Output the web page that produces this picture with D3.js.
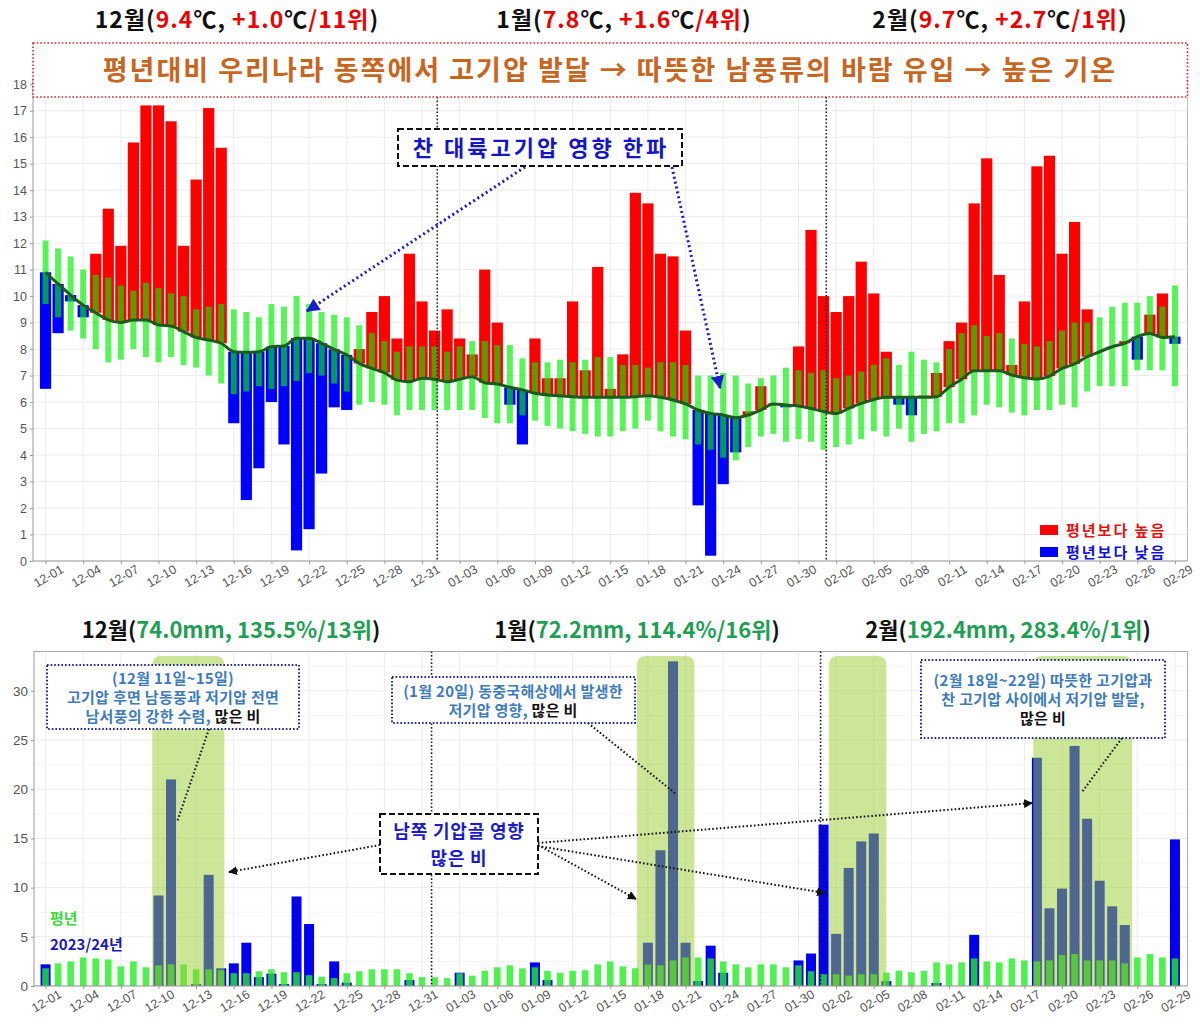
<!DOCTYPE html>
<meta charset="utf-8">
<head>
  <title>2023/24 겨울철 기온과 강수량</title>
</head>
<body>
<style>

  body {
    margin: 0;
    background: #fff;
  }

  svg text {
    font-family: "Noto Sans CJK KR", "Noto Sans", sans-serif;
  }

  .axis text {
    font-family: "Liberation Sans", "DejaVu Sans", sans-serif;
    font-size: 12.5px;
    fill: #555;
  }

  .axis path, .axis line {
    stroke: #999;
  }

  .grid line {
    stroke: #ececec;
    stroke-width: 1;
  }

</style>
<svg id="chart" width="1200" height="1024"></svg>
<script src="https://cdn.jsdelivr.net/npm/d3@7"></script>
<script>

// ---- data (one value per day, 2023-12-01 .. 2024-02-29) ----

// daily mean temperature 2023/24 (°C)
var tempActual = [
  6.5, 8.6, 9.8, 9.2, 11.6, 13.3, 11.9, 15.8, 17.2, 17.2,
  16.6, 11.9, 14.4, 17.1, 15.6, 5.2, 2.3, 3.5, 6.0, 4.4,
  0.4, 1.2, 3.3, 5.8, 5.7, 8.0, 9.4, 10.0, 8.4, 11.6,
  9.8, 8.7, 9.5, 8.4, 7.8, 11.0, 9.0, 5.9, 4.4, 8.4,
  6.9, 6.9, 9.8, 7.2, 11.1, 6.5, 7.8, 13.9, 13.5, 11.6,
  11.5, 8.7, 2.1, 0.2, 2.9, 4.1, 5.65, 6.6, 5.95, 5.8,
  8.1, 12.5, 10.0, 9.4, 10.0, 11.3, 10.1, 7.9, 5.9, 5.5,
  6.25, 7.1, 8.3, 9.0, 13.5, 15.2, 10.8, 7.4, 9.8, 14.9,
  15.3, 11.6, 12.8, 9.5, 7.9, 8.1, 8.3, 7.6, 9.3, 10.1,
  8.2
];

// normal (climatological) daily mean temperature
var tempNormal = [
  10.9, 10.46, 10.04, 9.66, 9.37, 9.1, 9.0, 9.1, 9.1, 8.91,
  8.87, 8.66, 8.44, 8.34, 8.22, 7.9, 7.88, 7.9, 8.09, 8.12,
  8.41, 8.41, 8.22, 7.99, 7.78, 7.46, 7.27, 7.11, 6.83, 6.77,
  6.9, 6.86, 6.77, 6.86, 6.96, 6.73, 6.68, 6.56, 6.46, 6.33,
  6.27, 6.24, 6.2, 6.18, 6.18, 6.18, 6.18, 6.2, 6.24, 6.18,
  6.08, 5.93, 5.7, 5.57, 5.51, 5.41, 5.51, 5.7, 5.93, 5.89,
  5.85, 5.76, 5.64, 5.57, 5.76, 5.95, 6.1, 6.18, 6.18, 6.18,
  6.18, 6.2, 6.56, 6.86, 7.18, 7.18, 7.18, 7.02, 6.92, 6.87,
  6.98, 7.27, 7.44, 7.71, 7.9, 8.09, 8.22, 8.47, 8.59, 8.44,
  8.47
];

// normal range, lower and upper bound
var tempNormalLow = [
  9.7, 9.2, 8.7, 8.4, 8.0, 7.5, 7.6, 8.0, 7.7, 7.5,
  7.7, 7.4, 7.3, 7.0, 6.7, 6.3, 6.4, 6.6, 6.5, 6.6,
  6.8, 7.1, 7.0, 6.7, 6.4, 5.9, 6.0, 5.9, 5.5, 5.7,
  5.7, 5.7, 5.7, 5.7, 5.7, 5.4, 5.2, 5.2, 5.5, 5.3,
  5.1, 5.0, 4.9, 4.8, 4.7, 4.7, 4.9, 5.0, 5.3, 4.9,
  4.7, 4.6, 4.4, 4.2, 3.9, 3.8, 4.3, 4.7, 4.8, 4.5,
  4.6, 4.5, 4.2, 4.3, 4.4, 4.6, 4.9, 4.7, 5.0, 4.5,
  4.8, 4.9, 5.2, 5.2, 5.5, 5.9, 5.8, 5.6, 5.5, 5.7,
  5.7, 5.9, 5.8, 6.4, 6.6, 6.6, 6.6, 7.2, 7.2, 7.2,
  6.6
];
var tempNormalHigh = [
  12.1, 11.8, 11.5, 11.0, 10.8, 10.7, 10.4, 10.2, 10.5, 10.3,
  10.1, 10.0, 9.5, 9.6, 9.7, 9.5, 9.4, 9.2, 9.7, 9.6,
  10.0, 9.7, 9.4, 9.3, 9.2, 8.9, 8.6, 8.3, 7.9, 8.1,
  8.1, 8.1, 7.9, 8.1, 8.3, 8.3, 8.15, 8.15, 7.65, 7.5,
  7.5, 7.6, 7.5, 7.6, 7.7, 7.7, 7.4, 7.4, 7.3, 7.5,
  7.5, 7.4, 7.0, 7.0, 7.1, 7.0, 6.7, 6.9, 7.0, 7.3,
  7.2, 7.1, 7.2, 6.9, 7.0, 7.15, 7.4, 7.65, 7.4, 7.9,
  7.6, 7.5, 8.0, 8.6, 8.9, 8.5, 8.6, 8.4, 8.2, 8.1,
  8.3, 8.7, 9.0, 9.0, 9.2, 9.6, 9.75, 9.75, 10.0, 9.6,
  10.4
];

// daily precipitation 2023/24 (mm)
var rainActual = [
  2.2, 0, 0, 0, 0, 0, 0, 0, 0, 9.2,
  21.0, 0, 0.2, 11.3, 1.8, 2.3, 4.4, 0.9, 1.25, 0.2,
  9.1, 6.3, 0.2, 2.5, 0.35, 0, 0, 0, 0, 0.6,
  0, 0, 0, 1.35, 0, 0, 0, 0, 0, 2.4,
  0.6, 0, 0, 0, 0, 0, 0, 0, 4.4, 13.8,
  33.0, 4.4, 0.5, 4.1, 1.35, 0, 0, 0, 0, 0,
  2.6, 3.3, 16.4, 5.3, 12.0, 14.7, 15.5, 0.5, 0, 0,
  0, 0.3, 0, 0, 5.2, 0, 0, 0, 0, 23.2,
  7.9, 9.9, 24.4, 17.0, 10.7, 8.1, 6.2, 0, 0, 0,
  14.9
];

// normal daily precipitation (mm)
var rainNormal = [
  1.8, 2.3, 2.5, 2.9, 2.8, 2.7, 2.0, 2.5, 1.9, 2.1,
  2.2, 2.2, 1.7, 1.7, 1.6, 1.3, 1.3, 1.5, 1.7, 1.4,
  1.4, 1.1, 0.95, 0.8, 1.3, 1.5, 1.7, 1.7, 1.7, 1.3,
  0.9, 0.9, 0.8, 1.3, 1.05, 1.55, 1.9, 2.1, 1.8, 1.9,
  1.55, 1.35, 1.55, 1.6, 2.2, 2.5, 2.0, 1.8, 2.2, 2.1,
  2.6, 2.9, 2.9, 2.8, 2.5, 2.2, 1.9, 2.2, 2.2, 1.9,
  2.1, 1.5, 1.2, 1.2, 1.05, 1.2, 1.2, 1.35, 1.55, 1.4,
  1.55, 2.4, 2.2, 2.4, 2.8, 2.5, 2.4, 2.8, 2.6, 2.5,
  2.6, 3.15, 3.25, 2.6, 2.6, 2.6, 2.3, 2.9, 3.25, 2.9,
  2.8
];

// heavy-rain periods shaded in the lower panel
var rainPeriods = [
  ["2023-12-09T12:00", "2023-12-15T06:00"],
  ["2024-01-17T03:00", "2024-01-21T17:00"],
  ["2024-02-01T10:00", "2024-02-06T00:00"],
  ["2024-02-17T17:00", "2024-02-25T14:00"]
];

var monthStarts = ["2024-01-01", "2024-02-01"];

// headers: [text, colour] pieces
var tempHeaders = [
  [["12월(", "#111"], ["9.4", "#e00"], ["℃, ", "#111"], ["+1.0", "#e00"], ["℃", "#111"], ["/11위", "#e00"], [")", "#111"]],
  [["1월(", "#111"], ["7.8", "#e00"], ["℃, ", "#111"], ["+1.6", "#e00"], ["℃", "#111"], ["/4위", "#e00"], [")", "#111"]],
  [["2월(", "#111"], ["9.7", "#e00"], ["℃, ", "#111"], ["+2.7", "#e00"], ["℃", "#111"], ["/1위", "#e00"], [")", "#111"]]
];
var rainHeaders = [
  [["12월(", "#111"], ["74.0mm, 135.5%/13위", "#1f9e55"], [")", "#111"]],
  [["1월(", "#111"], ["72.2mm, 114.4%/16위", "#1f9e55"], [")", "#111"]],
  [["2월(", "#111"], ["192.4mm, 283.4%/1위", "#1f9e55"], [")", "#111"]]
];

(function() {

var svg = d3.select('#chart');

var days = d3.timeDay.range(new Date(2023, 11, 1), new Date(2024, 2, 1)),
    fmt = d3.timeFormat('%m-%d'),
    tickDays = days.filter(function(d, i) { return i % 3 === 0; });

var left = 33, right = 1187.5;

var x = d3.scaleTime()
    .domain([d3.timeDay.offset(days[0], -1), d3.timeDay.offset(days[days.length - 1], 1)])
    .range([left, right]);

var defs = svg.append('defs');
addMarker('arrow-blue', '#1a1ad0');
addMarker('arrow-black', '#111');

function addMarker(id, color) {
  defs.append('marker')
      .attr('id', id)
      .attr('viewBox', '0 0 10 10')
      .attr('refX', 9).attr('refY', 5)
      .attr('markerWidth', 4.5).attr('markerHeight', 4.5)
      .attr('markerUnits', 'strokeWidth')
      .attr('orient', 'auto')
    .append('path')
      .attr('d', 'M0,0 L10,5 L0,10 Z')
      .attr('fill', color);
}

drawTempPanel();
drawRainPanel();

function header(parent, pieces, cx, y, size, spacing) {
  var t = parent.append('text')
      .attr('x', cx).attr('y', y)
      .attr('text-anchor', 'middle')
      .style('font-size', size + 'px')
      .style('font-weight', 'bold')
      .style('letter-spacing', spacing + 'px');
  pieces.forEach(function(p) {
    t.append('tspan').attr('fill', p[1]).text(p[0]);
  });
}

function xAxis(g, y0, dx) {
  g.attr('class', 'axis')
      .attr('transform', 'translate(0,' + y0 + ')')
      .call(d3.axisBottom(x).tickValues(tickDays).tickFormat(fmt).tickSize(3).tickSizeOuter(0));
  g.select('.domain').attr('d', 'M' + left + ',0H' + right);
  g.selectAll('.tick text')
      .attr('y', 0).attr('dy', '0.71em')
      .attr('text-anchor', 'end')
      .attr('transform', 'translate(' + dx + ',3) rotate(-30)');
}

// ---------------- temperature panel ----------------
function drawTempPanel() {
  var y = d3.scaleLinear().domain([0, 18]).range([561, 84.2]);
  var g = svg.append('g');

  var grid = g.append('g').attr('class', 'grid');
  grid.selectAll('.h').data(d3.range(0, 19)).enter().append('line')
      .attr('x1', left).attr('x2', right)
      .attr('y1', y).attr('y2', y);
  grid.selectAll('.v').data(tickDays).enter().append('line')
      .attr('x1', x).attr('x2', x)
      .attr('y1', 78).attr('y2', 561);

  // anomaly bars from the normal line to the observed value
  g.append('g').selectAll('rect')
      .data(days)
    .enter().append('rect')
      .attr('x', function(d) { return x(d) - 5.6; })
      .attr('width', 11.2)
      .attr('y', function(d, i) { return y(Math.max(tempActual[i], tempNormal[i])); })
      .attr('height', function(d, i) { return Math.abs(y(tempActual[i]) - y(tempNormal[i])); })
      .attr('fill', function(d, i) { return tempActual[i] >= tempNormal[i] ? '#ff0000' : '#0000ff'; });

  // normal range
  g.append('g').selectAll('rect')
      .data(days)
    .enter().append('rect')
      .attr('x', function(d) { return x(d) - 3; })
      .attr('width', 6)
      .attr('y', function(d, i) { return y(tempNormalHigh[i]); })
      .attr('height', function(d, i) { return y(tempNormalLow[i]) - y(tempNormalHigh[i]); })
      .attr('fill', '#00ee00')
      .attr('fill-opacity', 0.65);

  var line = d3.line()
      .x(function(d) { return x(d); })
      .y(function(d, i) { return y(tempNormal[i]); })
      .curve(d3.curveMonotoneX);

  g.append('path')
      .datum(days)
      .attr('d', line)
      .attr('fill', 'none')
      .attr('stroke', '#1d5a1d')
      .attr('stroke-width', 3);

  // axes and frame
  g.append('line').attr('x1', right).attr('x2', right).attr('y1', 78).attr('y2', 561)
      .attr('stroke', '#bbb');
  var ya = g.append('g').attr('class', 'axis')
      .attr('transform', 'translate(' + left + ',0)')
      .call(d3.axisLeft(y).ticks(18).tickSize(3).tickSizeOuter(0));
  ya.select('.domain').attr('d', 'M0,78V561');
  xAxis(g.append('g'), 561, 14);

  // month boundaries
  g.selectAll('.month').data(monthStarts).enter().append('line')
      .attr('x1', function(d) { return x(new Date(d + 'T00:00')) + 2.7; })
      .attr('x2', function(d) { return x(new Date(d + 'T00:00')) + 2.7; })
      .attr('y1', 97).attr('y2', 561)
      .attr('stroke', '#222').attr('stroke-width', 1.6)
      .attr('stroke-dasharray', '1.6,2');

  // headline box
  g.append('rect')
      .attr('x', left).attr('y', 43).attr('width', right - left).attr('height', 54)
      .attr('fill', '#fff')
      .attr('stroke', '#d02828').attr('stroke-width', 1.6)
      .attr('stroke-dasharray', '1.6,2');
  g.append('text')
      .attr('x', 610).attr('y', 80)
      .attr('text-anchor', 'middle')
      .style('font-size', '27px').style('font-weight', 'bold')
      .style('letter-spacing', '2px')
      .attr('fill', '#c8651f')
      .text('평년대비 우리나라 동쪽에서 고기압 발달 → 따뜻한 남풍류의 바람 유입 → 높은 기온');

  var centers = [237, 624, 1000];
  tempHeaders.forEach(function(h, i) { header(svg, h, centers[i], 28, 23, 1); });

  // cold wave note
  [[525, 167, 307, 311], [672, 167, 720, 388]].forEach(function(a) {
    g.append('line')
        .attr('x1', a[0]).attr('y1', a[1]).attr('x2', a[2]).attr('y2', a[3])
        .attr('stroke', '#1a1ad0').attr('stroke-width', 3)
        .attr('stroke-dasharray', '2,3')
        .attr('marker-end', 'url(#arrow-blue)');
  });
  g.append('rect')
      .attr('x', 398).attr('y', 129).attr('width', 284).attr('height', 37)
      .attr('fill', '#fff').attr('stroke', '#111').attr('stroke-width', 2)
      .attr('stroke-dasharray', '6,3');
  g.append('text')
      .attr('x', 541).attr('y', 156)
      .attr('text-anchor', 'middle')
      .style('font-size', '22px').style('font-weight', 'bold')
      .style('letter-spacing', '3px')
      .attr('fill', '#1515c8')
      .text('찬 대륙고기압 영향 한파');

  // legend
  var legend = [['평년보다 높음', '#ff0000', '#e81010'], ['평년보다 낮음', '#0000ff', '#1010e0']];
  legend.forEach(function(l, i) {
    g.append('rect').attr('x', 1040).attr('y', 525 + i * 22).attr('width', 18).attr('height', 10)
        .attr('fill', l[1]);
    g.append('text').attr('x', 1066).attr('y', 536 + i * 22)
        .style('font-size', '15px').style('font-weight', 'bold')
        .style('letter-spacing', '2px')
        .attr('fill', l[2]).text(l[0]);
  });
}

// ---------------- precipitation panel ----------------
function drawRainPanel() {
  var y = d3.scaleLinear().domain([0, 34]).range([986, 651.5]);
  var g = svg.append('g');

  var grid = g.append('g').attr('class', 'grid');
  grid.selectAll('.h').data(d3.range(0, 34, 2.5)).enter().append('line')
      .attr('x1', left + 1).attr('x2', right)
      .attr('y1', y).attr('y2', y)
      .style('stroke', function(d) { return d % 5 === 0 ? '#ececec' : '#f5f5f5'; });
  grid.selectAll('.v').data(tickDays).enter().append('line')
      .attr('x1', x).attr('x2', x)
      .attr('y1', 651.5).attr('y2', 986);

  g.append('g').selectAll('rect')
      .data(days)
    .enter().append('rect')
      .attr('x', function(d) { return x(d) - 5; })
      .attr('width', 10)
      .attr('y', function(d, i) { return y(rainActual[i]); })
      .attr('height', function(d, i) { return y(0) - y(rainActual[i]); })
      .attr('fill', '#0000ee');

  g.append('g').selectAll('rect')
      .data(days)
    .enter().append('rect')
      .attr('x', function(d) { return x(d) - 3.3; })
      .attr('width', 6.6)
      .attr('y', function(d, i) { return y(rainNormal[i]); })
      .attr('height', function(d, i) { return y(0) - y(rainNormal[i]); })
      .attr('fill', '#22ee22')
      .attr('fill-opacity', 0.8);

  // shaded heavy-rain periods
  var top = 656, r = 9;
  g.append('g').selectAll('path')
      .data(rainPeriods)
    .enter().append('path')
      .attr('d', function(p) {
        var x0 = x(new Date(p[0])), x1 = x(new Date(p[1]));
        return 'M' + x0 + ',' + y(0) + 'V' + (top + r) + 'Q' + x0 + ',' + top + ' ' + (x0 + r) + ',' + top +
               'H' + (x1 - r) + 'Q' + x1 + ',' + top + ' ' + x1 + ',' + (top + r) + 'V' + y(0) + 'Z';
      })
      .attr('fill', '#9acd32')
      .attr('fill-opacity', 0.5);

  // frame and axes
  g.append('path').attr('d', 'M' + (left + 1) + ',651.5H' + right + 'V986')
      .attr('fill', 'none').attr('stroke', '#aaa');
  var ya = g.append('g').attr('class', 'axis')
      .attr('transform', 'translate(' + (left + 1) + ',0)')
      .call(d3.axisLeft(y).tickValues(d3.range(0, 31, 5)).tickSize(3).tickSizeOuter(0));
  ya.select('.domain').attr('d', 'M0,651.5V986');
  ya.selectAll('.tick text').style('font-size', '13.5px');
  xAxis(g.append('g'), 986, 12);

  g.selectAll('.month').data(monthStarts).enter().append('line')
      .attr('x1', function(d) { return x(new Date(d + 'T00:00')) - 3; })
      .attr('x2', function(d) { return x(new Date(d + 'T00:00')) - 3; })
      .attr('y1', 651.5).attr('y2', 986)
      .attr('stroke', '#222').attr('stroke-width', 1.6)
      .attr('stroke-dasharray', '1.6,2');

  var centers = [231, 637, 1008];
  rainHeaders.forEach(function(h, i) { header(svg, h, centers[i], 638, 22, 0); });

  // pointer lines from the note boxes
  var dotted = function(a, marker) {
    var l = g.append('line')
        .attr('x1', a[0]).attr('y1', a[1]).attr('x2', a[2]).attr('y2', a[3])
        .attr('stroke', '#111').attr('stroke-width', 2)
        .attr('stroke-dasharray', '1.6,2.2');
    if (marker) l.attr('marker-end', 'url(#arrow-black)');
  };
  [[209, 729, 177, 822], [588, 723, 676, 794], [1122, 738, 1082, 792]].forEach(function(a) { dotted(a, false); });
  [[380, 845, 229, 872], [538, 845, 636, 899], [538, 843, 1032, 803], [538, 846, 825, 893]]
      .forEach(function(a) { dotted(a, true); });

  // note boxes
  var notes = [
    {box: [47, 665, 252, 64], cx: 173, lines: [
      [["(12월 11일~15일)", "#3d7bbd"]],
      [["고기압 후면 남동풍과 저기압 전면", "#3d7bbd"]],
      [["남서풍의 강한 수렴, ", "#3d7bbd"], ["많은 비", "#111"]]], y0: 684},
    {box: [392, 677, 243, 46], cx: 513, lines: [
      [["(1월 20일) 동중국해상에서 발생한", "#3d7bbd"]],
      [["저기압 영향, ", "#3d7bbd"], ["많은 비", "#111"]]], y0: 697},
    {box: [921, 660, 244, 78], cx: 1043, lines: [
      [["(2월 18일~22일) 따뜻한 고기압과", "#3d7bbd"]],
      [["찬 고기압 사이에서 저기압 발달,", "#3d7bbd"]],
      [["많은 비", "#111"]]], y0: 686}
  ];
  notes.forEach(function(n) {
    g.append('rect')
        .attr('x', n.box[0]).attr('y', n.box[1]).attr('width', n.box[2]).attr('height', n.box[3])
        .attr('fill', '#fff').attr('stroke', '#24249a').attr('stroke-width', 2)
        .attr('stroke-dasharray', '1.6,2');
    n.lines.forEach(function(pieces, i) {
      var t = g.append('text')
          .attr('x', n.cx).attr('y', n.y0 + i * 19)
          .attr('text-anchor', 'middle')
          .style('font-size', '15px').style('font-weight', 'bold')
          .style('letter-spacing', '0.3px');
      pieces.forEach(function(p) { t.append('tspan').attr('fill', p[1]).text(p[0]); });
    });
  });

  g.append('rect')
      .attr('x', 380).attr('y', 814).attr('width', 158).attr('height', 60)
      .attr('fill', '#fff').attr('stroke', '#111').attr('stroke-width', 2)
      .attr('stroke-dasharray', '6,3');
  ['남쪽 기압골 영향', '많은 비'].forEach(function(s, i) {
    g.append('text')
        .attr('x', 459).attr('y', 838 + i * 27)
        .attr('text-anchor', 'middle')
        .style('font-size', '18px').style('font-weight', 'bold')
        .style('letter-spacing', '0.8px')
        .attr('fill', '#1a1ad0')
        .text(s);
  });

  // series labels
  g.append('text').attr('x', 50).attr('y', 924)
      .style('font-size', '15px').style('font-weight', 'bold')
      .attr('fill', '#3ad83a').text('평년');
  g.append('text').attr('x', 50).attr('y', 950)
      .style('font-size', '15px').style('font-weight', 'bold')
      .attr('fill', '#1a1ab4').text('2023/24년');
}

})();

</script>
</body>
